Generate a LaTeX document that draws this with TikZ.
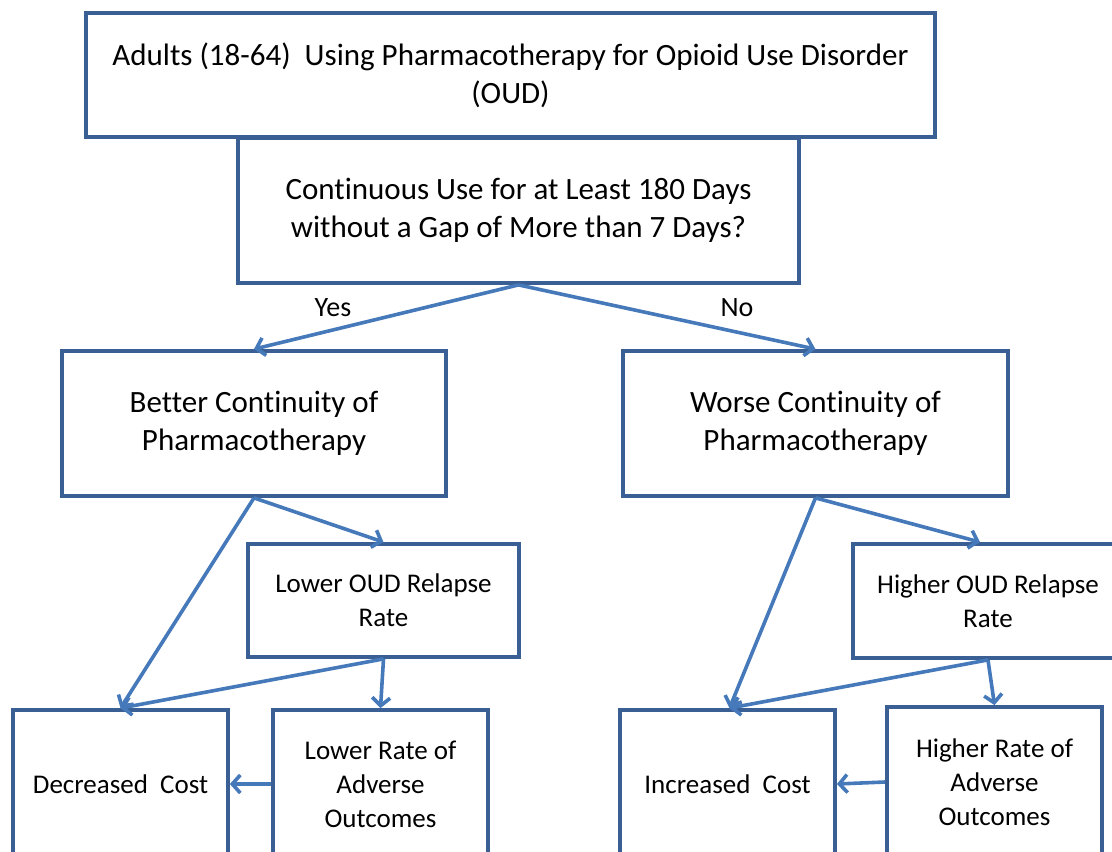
\documentclass[tikz,border=0pt]{standalone}
\usepackage{fontspec}
\setmainfont[Ligatures=NoCommon]{Carlito}
\usetikzlibrary{arrows.meta}
\definecolor{boxline}{HTML}{3A5F94}
\definecolor{arrowline}{HTML}{4679BA}
\begin{document}
\begin{tikzpicture}[x=1pt,y=-1pt,
  box/.style={draw=boxline, line width=3.8pt, rectangle, fill=white, align=center, inner sep=0pt},
  big/.style={font=\fontsize{31}{38}\selectfont},
  small/.style={font=\fontsize{27}{34}\selectfont},
  flow/.style={draw=arrowline, line width=3.6pt, -{Straight Barb[length=8pt,width=18pt,line width=3.6pt]}},
  answer/.style={font=\fontsize{28}{30}\selectfont, inner sep=0pt}]
\useasboundingbox (0,0) rectangle (1112,852);
\clip (0,0) rectangle (1112,852);

% top row
\node[box, big, minimum width=849pt, minimum height=124pt] (adults) at (510.5,75)
  {Adults (18-64)\ \ Using Pharmacotherapy for Opioid Use Disorder\\(OUD)};
\node[box, big, minimum width=561pt, minimum height=145pt] (question) at (518.5,210.5)
  {Continuous Use for at Least 180 Days\\without a Gap of More than 7 Days?};

% continuity outcomes
\node[box, big, minimum width=384pt, minimum height=145pt] (better) at (254,423.5)
  {Better Continuity of\\Pharmacotherapy};
\node[box, big, minimum width=385pt, minimum height=145pt] (worse) at (815.5,423.5)
  {Worse Continuity of\\Pharmacotherapy};

% relapse rates
\node[box, small, minimum width=271pt, minimum height=113pt] (lowoud) at (383.5,600.5)
  {Lower OUD Relapse\\Rate};
\node[box, small, minimum width=270pt, minimum height=114pt] (highoud) at (988,601)
  {Higher OUD Relapse\\Rate};

% costs and adverse outcomes
\node[box, small, minimum width=215pt, minimum height=148pt] (decreased) at (120.5,784)
  {Decreased\ \ Cost};
\node[box, small, minimum width=215pt, minimum height=148pt] (lowrate) at (380.5,784)
  {Lower Rate of\\Adverse\\Outcomes};
\node[box, small, minimum width=215pt, minimum height=148pt] (increased) at (727.5,784)
  {Increased\ \ Cost};
\node[box, small, minimum width=215pt, minimum height=150pt] (highrate) at (994.5,782)
  {Higher Rate of\\Adverse\\Outcomes};

% branch labels
\node[answer] (yes) at (333,308) {Yes};
\node[answer] (no) at (737,308) {No};

% connectors
\draw[flow] (question.south) -- (better.north);
\draw[flow] (question.south) -- (worse.north);
\draw[flow] (better.south) -- (lowoud.north);
\draw[flow] (better.south) -- (decreased.north);
\draw[flow] (lowoud.south) -- (decreased.north);
\draw[flow] (lowoud.south) -- (lowrate.north);
\draw[flow] (lowrate.west) -- (decreased.east);
\draw[flow] (worse.south) -- ([xshift=-8pt]highoud.north);
\draw[flow] (worse.south) -- ([xshift=2pt]increased.north);
\draw[flow] (highoud.south) -- ([xshift=2pt]increased.north);
\draw[flow] (highoud.south) -- (highrate.north);
\draw[flow] (highrate.west) -- (increased.east);
\end{tikzpicture}
\end{document}
